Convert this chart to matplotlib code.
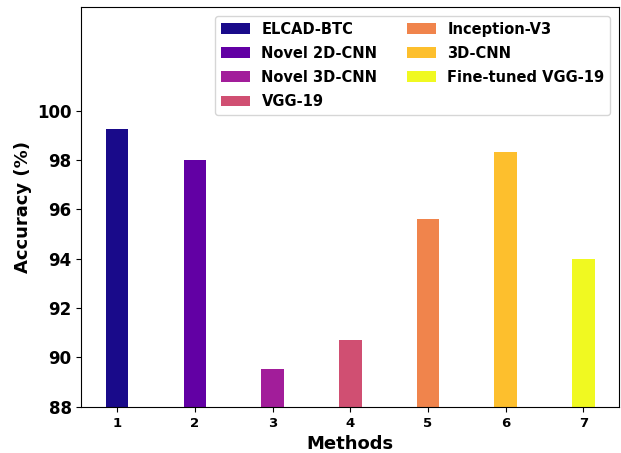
import matplotlib
matplotlib.use("Agg")
import matplotlib.pyplot as plt

methods = [1, 2, 3, 4, 5, 6, 7]
names = ["ELCAD-BTC", "Novel 2D-CNN", "Novel 3D-CNN", "VGG-19",
         "Inception-V3", "3D-CNN", "Fine-tuned VGG-19"]
accuracy = [99.25, 98.0, 89.53, 90.7, 95.6, 98.33, 94.0]
colors = ["#190a8a", "#6200a4", "#a21d9a", "#d04f72", "#f0844c", "#fdbf2d", "#f0f921"]
yticks = [88, 90, 92, 94, 96, 98, 100]

fig = plt.figure(figsize=(6.21, 4.53), dpi=100)
ax = fig.add_axes([0.131, 0.102, 0.866, 0.8825])

for m, v, c, n in zip(methods, accuracy, colors, names):
    ax.bar(m, v - 88, bottom=88, width=0.29, color=c, label=n)

ax.set_ylim(88, 104.2)
ax.set_yticks(yticks)
ax.set_xticks(methods)
ax.set_xticklabels([str(m) for m in methods], fontsize=9.5, fontweight="bold")
ax.set_yticklabels([str(t) for t in yticks], fontsize=12, fontweight="bold")
ax.set_xlabel("Methods", fontsize=13, fontweight="bold", labelpad=4)
ax.set_ylabel("Accuracy (%)", fontsize=13, fontweight="bold")
ax.legend(loc="upper right", ncol=2, prop={"weight": "bold", "size": 10.5},
          columnspacing=2.0, handletextpad=0.8, labelspacing=0.62,
          borderaxespad=0.6)

fig.savefig("out.png", dpi=100)
